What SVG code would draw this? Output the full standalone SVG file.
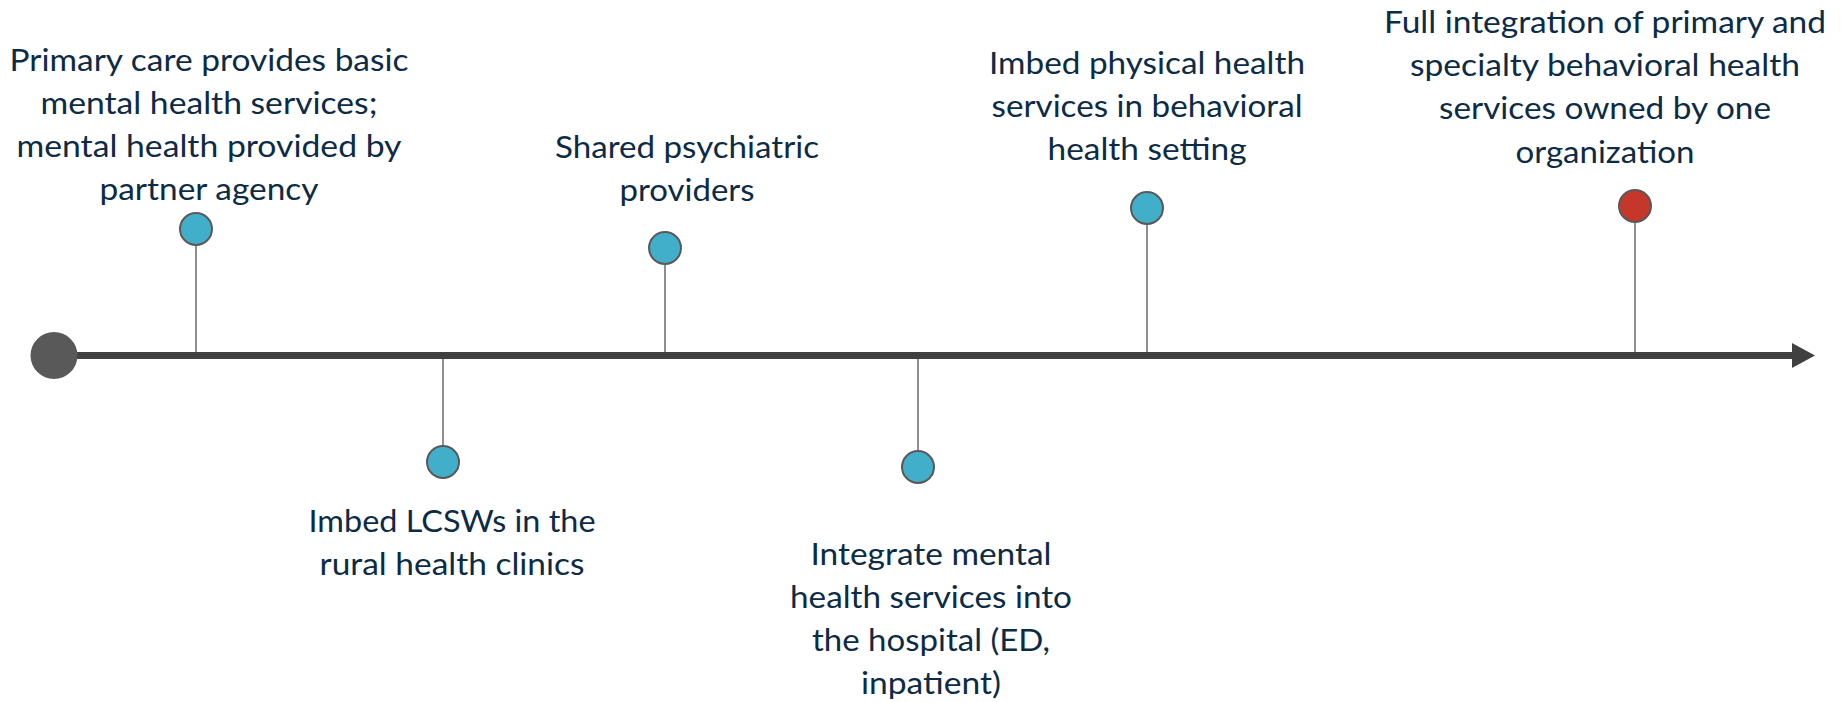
<svg xmlns="http://www.w3.org/2000/svg" width="1846" height="702" viewBox="0 0 1846 702">
<style>
.lbl{font-family:Lato,"Open Sans","Liberation Sans",sans-serif;font-size:31px;fill:#0D2B45;text-anchor:middle}
.dot{fill:#42AFCA;stroke:#595959;stroke-width:2}
.dot.red{fill:#C4372A}
.stem{stroke:#737373;stroke-width:1.6;fill:none}
</style>
<rect width="1846" height="702" fill="#FFFFFF"/>
<g id="connectors">
<line x1="54" y1="355.5" x2="1794" y2="355.5" stroke="#404040" stroke-width="7"/>
<polygon points="1792,343 1815,355.5 1792,368" fill="#404040"/>
<line class="stem" x1="196" y1="245" x2="196" y2="352"/>
<line class="stem" x1="443" y1="359" x2="443" y2="446"/>
<line class="stem" x1="665" y1="264" x2="665" y2="352"/>
<line class="stem" x1="918" y1="359" x2="918" y2="451"/>
<line class="stem" x1="1147" y1="224" x2="1147" y2="352"/>
<line class="stem" x1="1635" y1="222" x2="1635" y2="352"/>
</g>
<g id="start">
<circle cx="54" cy="355.5" r="23.5" fill="#595959"/>
</g>
<g id="node1">
<circle class="dot" cx="196" cy="229" r="16"/>
<text class="lbl"><tspan x="209" y="71" textLength="399" lengthAdjust="spacingAndGlyphs">Primary care provides basic</tspan><tspan x="209" y="114" textLength="337" lengthAdjust="spacingAndGlyphs">mental health services;</tspan><tspan x="209" y="157" textLength="385" lengthAdjust="spacingAndGlyphs">mental health provided by</tspan><tspan x="209" y="200" textLength="219" lengthAdjust="spacingAndGlyphs">partner agency</tspan></text>
</g>
<g id="node2">
<circle class="dot" cx="443" cy="462" r="16"/>
<text class="lbl"><tspan x="452" y="532" textLength="287" lengthAdjust="spacingAndGlyphs">Imbed LCSWs in the</tspan><tspan x="452" y="575" textLength="265" lengthAdjust="spacingAndGlyphs">rural health clinics</tspan></text>
</g>
<g id="node3">
<circle class="dot" cx="665" cy="248" r="16"/>
<text class="lbl"><tspan x="687" y="158" textLength="264" lengthAdjust="spacingAndGlyphs">Shared psychiatric</tspan><tspan x="687" y="201" textLength="135" lengthAdjust="spacingAndGlyphs">providers</tspan></text>
</g>
<g id="node4">
<circle class="dot" cx="918" cy="467" r="16"/>
<text class="lbl"><tspan x="931" y="565" textLength="241" lengthAdjust="spacingAndGlyphs">Integrate mental</tspan><tspan x="931" y="608" textLength="282" lengthAdjust="spacingAndGlyphs">health services into</tspan><tspan x="931" y="651" textLength="238" lengthAdjust="spacingAndGlyphs">the hospital (ED,</tspan><tspan x="931" y="694" textLength="140" lengthAdjust="spacingAndGlyphs">inpatient)</tspan></text>
</g>
<g id="node5">
<circle class="dot" cx="1147" cy="208" r="16"/>
<text class="lbl"><tspan x="1147" y="74" textLength="316" lengthAdjust="spacingAndGlyphs">Imbed physical health</tspan><tspan x="1147" y="117" textLength="311" lengthAdjust="spacingAndGlyphs">services in behavioral</tspan><tspan x="1147" y="160" textLength="199" lengthAdjust="spacingAndGlyphs">health setting</tspan></text>
</g>
<g id="node6">
<circle class="dot red" cx="1635" cy="206" r="16"/>
<text class="lbl"><tspan x="1605" y="33" textLength="442" lengthAdjust="spacingAndGlyphs">Full integration of primary and</tspan><tspan x="1605" y="76" textLength="390" lengthAdjust="spacingAndGlyphs">specialty behavioral health</tspan><tspan x="1605" y="119" textLength="332" lengthAdjust="spacingAndGlyphs">services owned by one</tspan><tspan x="1605" y="163" textLength="179" lengthAdjust="spacingAndGlyphs">organization</tspan></text>
</g>
</svg>
